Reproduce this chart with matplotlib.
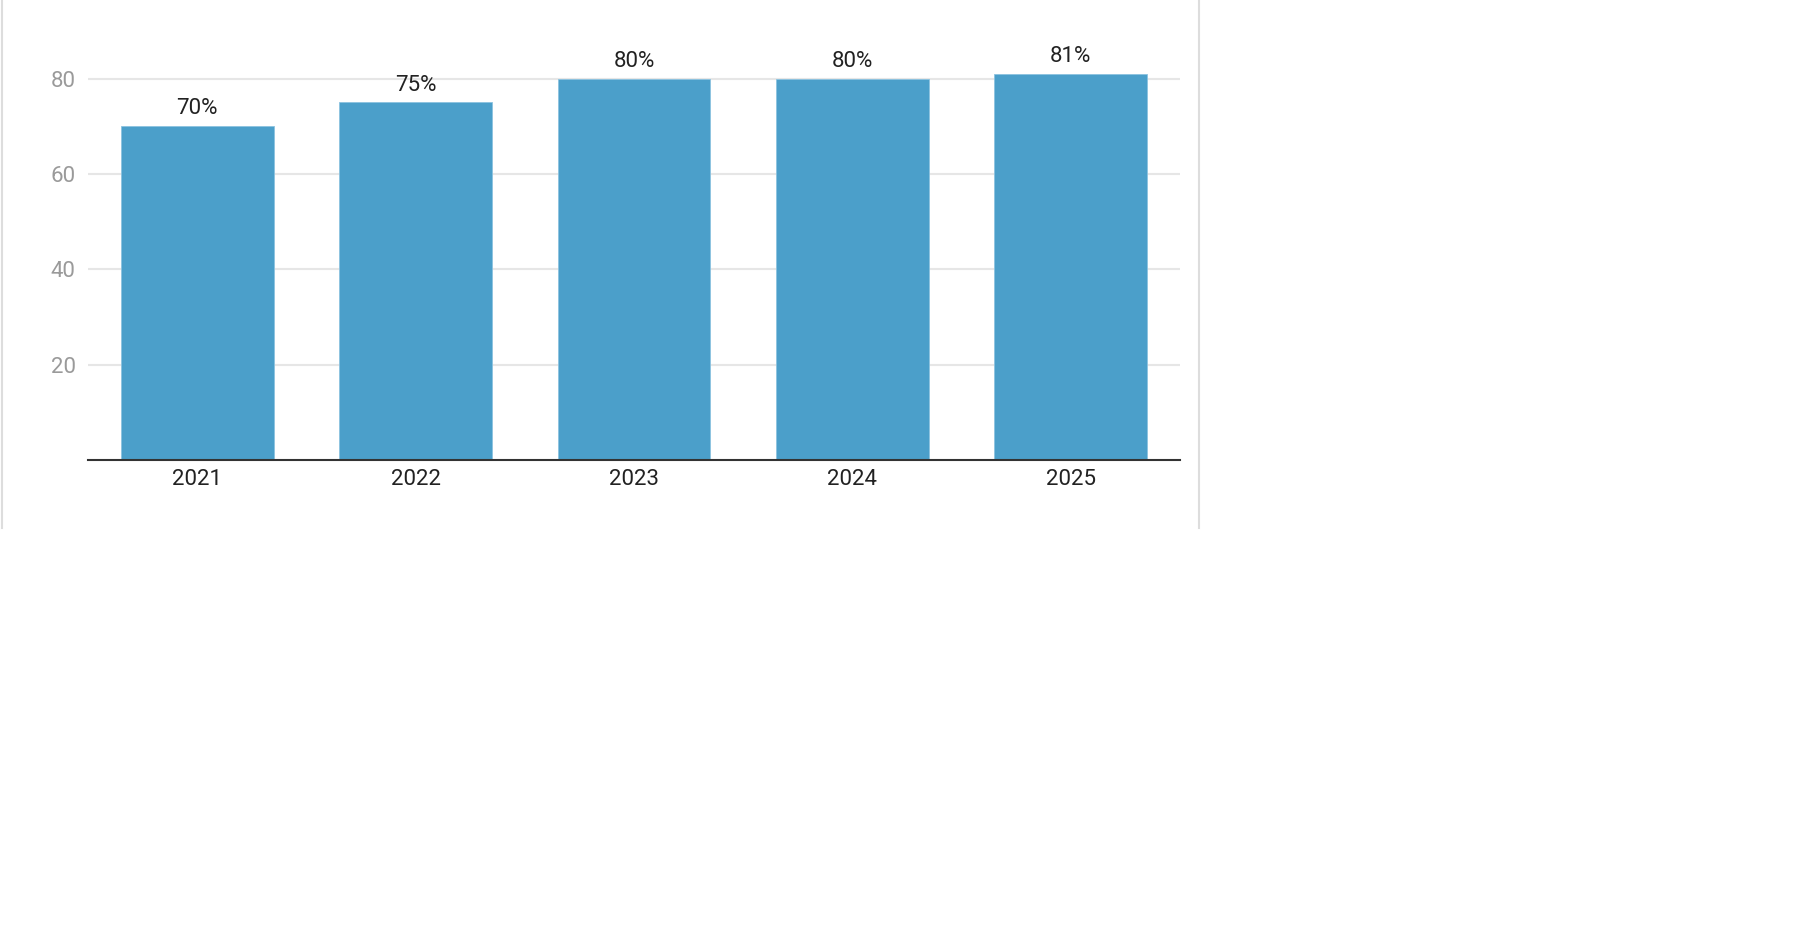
import matplotlib
matplotlib.use("Agg")
import matplotlib.pyplot as plt
from matplotlib.lines import Line2D

plt.rcParams['font.family'] = ['Roboto', 'DejaVu Sans']

years = ["2021", "2022", "2023", "2024", "2025"]
values = [70, 75, 80, 80, 81]
labels = ["70%", "75%", "80%", "80%", "81%"]
yticks = [20, 40, 60, 80]

W, H = 1802, 946
fig = plt.figure(figsize=(W / 100, H / 100), dpi=100)
# axes in pixel terms: left 88, right 1180, baseline 460, top 31
ax = fig.add_axes([88 / W, (H - 460) / H, 1092 / W, 429 / H])

x = range(len(years))
bars = ax.bar(x, values, width=0.70, color="#4b9fca", edgecolor="#8cc3e0",
              linewidth=0.6, zorder=3)

for b, lab in zip(bars, labels):
    ax.annotate(lab, (b.get_x() + b.get_width() / 2, b.get_height()),
                xytext=(0, 5), textcoords="offset points",
                ha="center", va="bottom", fontsize=16, color="#222222")

ax.set_xlim(-0.5, len(years) - 0.5)
ax.set_ylim(0, 90)
ax.set_xticks(list(x))
ax.set_xticklabels(years, fontsize=16, color="#222222")
ax.set_yticks(yticks)
ax.set_yticklabels([str(t) for t in yticks], fontsize=16, color="#9a9a9a")
ax.tick_params(axis="both", length=0)
ax.tick_params(axis="x", pad=6.5)
ax.tick_params(axis="y", pad=9)

ax.grid(axis="y", color="#e6e6e6", linewidth=1.5, zorder=0)
ax.set_axisbelow(True)
for s in ["top", "right", "left"]:
    ax.spines[s].set_visible(False)
ax.spines["bottom"].set_color("#333333")
ax.spines["bottom"].set_linewidth(1.5)
ax.spines["bottom"].set_zorder(4)

# panel border lines left and right
fig.add_artist(Line2D([1.5 / W, 1.5 / W], [1, (H - 528) / H],
                      color="#dddddd", linewidth=1.5))
fig.add_artist(Line2D([1199 / W, 1199 / W], [1, (H - 528) / H],
                      color="#dddddd", linewidth=1.5))

fig.savefig("out.png", dpi=100, facecolor="white")
